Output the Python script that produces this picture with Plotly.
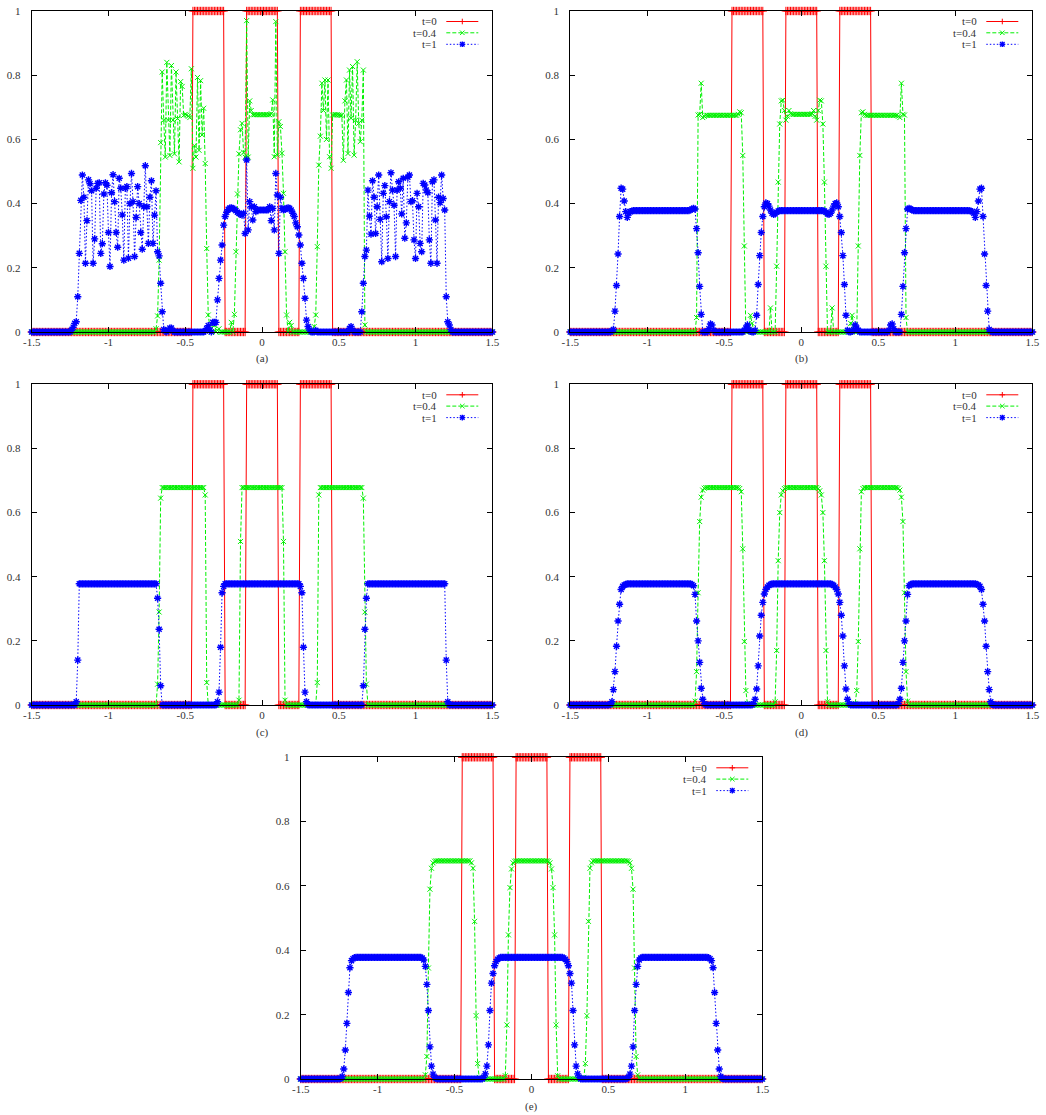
import plotly.graph_objects as go

# ---------------- grid ----------------
X_START, DX, N = -1.5, 0.01, 301
x_grid = [round(X_START + DX * i, 2) for i in range(N)]

x_tick_vals = [-1.5, -1, -0.5, 0, 0.5, 1, 1.5]
x_tick_text = ["-1.5", "-1", "-0.5", "0", "0.5", "1", "1.5"]
y_tick_vals = [0, 0.2, 0.4, 0.6, 0.8, 1]
y_tick_text = ["0", "0.2", "0.4", "0.6", "0.8", "1"]
series_names = ["t=0", "t=0.4", "t=1"]
panel_labels = ["(a)", "(b)", "(c)", "(d)", "(e)"]

# ---------------- data (start x; 0 elsewhere) ----------------
red_t0 = [(-0.45, [1.0] * 21), (-0.10, [1.0] * 21), (0.25, [1.0] * 21)]

green_a = [
    (-0.69, [0.01, 0.05, 0.224, 0.59, 0.81, 0.66, 0.545, 0.84, 0.66, 0.55, 0.83, 0.66, 0.555, 0.81,
             0.665, 0.53, 0.78, 0.765, 0.675, 0.678, 0.676, 0.672, 0.668, 0.82, 0.51, 0.58, 0.545,
             0.793, 0.566, 0.783, 0.614, 0.697, 0.525, 0.26, 0.053, 0.017]),
    (-0.32, [0.03, 0.02, 0.0, 0.005, 0.01]),
    (-0.20, [0.03, 0.0, 0.055, 0.25, 0.43, 0.555, 0.63, 0.65, 0.56, 0.545, 0.97, 0.545, 0.72, 0.69]
     + [0.677] * 12
     + [0.68, 0.723, 0.546, 0.967, 0.551, 0.655, 0.64, 0.557, 0.432, 0.25, 0.053, 0.0, 0.03, 0.02]),
    (0.33, [0.0, 0.017, 0.053, 0.266, 0.52, 0.61, 0.775, 0.69, 0.785, 0.6, 0.785, 0.546, 0.51, 0.676,
            0.677, 0.677, 0.677, 0.676, 0.675, 0.675, 0.535, 0.72, 0.785, 0.556, 0.816, 0.666, 0.827,
            0.551, 0.66, 0.842, 0.65, 0.593, 0.66, 0.816, 0.022]),
]
blue_a = [
    (-1.24, [0.005, 0.015, 0.027, 0.032, 0.11, 0.245, 0.41, 0.489, 0.42, 0.214, 0.347, 0.474, 0.462,
             0.44, 0.214, 0.29, 0.448, 0.463, 0.465, 0.245, 0.275, 0.43, 0.465, 0.457, 0.31, 0.204,
             0.434, 0.49, 0.406, 0.31, 0.264, 0.479, 0.448, 0.365, 0.224, 0.448, 0.453, 0.23, 0.4,
             0.494, 0.406, 0.235, 0.357, 0.453, 0.4, 0.31, 0.258, 0.39, 0.518, 0.39, 0.276, 0.42,
             0.471, 0.276, 0.364, 0.44, 0.25, 0.237, 0.152, 0.063, 0.008, 0.003, 0.0, 0.005, 0.012,
             0.012, 0.003]),
    (-0.37, [0.003, 0.011, 0.02, 0.005, 0.0, 0.03, 0.03, 0.03, 0.1, 0.167, 0.224, 0.271, 0.333, 0.36,
             0.373, 0.382, 0.386, 0.387, 0.385, 0.382, 0.378, 0.373, 0.37, 0.366, 0.364, 0.37, 0.307,
             0.536, 0.318, 0.406, 0.39, 0.349, 0.39, 0.375]
     + [0.38] * 8
     + [0.39, 0.347, 0.385, 0.318, 0.494, 0.427, 0.245, 0.42, 0.385, 0.38, 0.382, 0.385, 0.387,
        0.385, 0.38, 0.37, 0.36, 0.34, 0.328, 0.302, 0.271, 0.214, 0.167, 0.105, 0.037, 0.017, 0.006]),
    (0.35, [0.005]),
    (0.57, [0.011, 0.017, 0.005]),
    (0.65, [0.063, 0.152, 0.235, 0.255, 0.442, 0.361, 0.305, 0.471, 0.42, 0.307, 0.39, 0.489, 0.351,
            0.219, 0.432, 0.456, 0.359, 0.229, 0.406, 0.496, 0.442, 0.395, 0.235, 0.442, 0.468, 0.448,
            0.368, 0.479, 0.292, 0.34, 0.482, 0.489, 0.406, 0.409, 0.287, 0.229, 0.432, 0.39, 0.276,
            0.25, 0.463, 0.458, 0.442, 0.434, 0.287, 0.214, 0.468, 0.474, 0.349, 0.214, 0.42, 0.403,
            0.489, 0.416, 0.38, 0.11, 0.032, 0.022, 0.008]),
]

green_b = [
    (-0.68, [0.045, 0.676, 0.678, 0.775, 0.668, 0.672] + [0.675] * 21
     + [0.678, 0.686, 0.683, 0.55, 0.268, 0.0, 0.0, 0.02, 0.052, 0.027, 0.005]),
    (-0.20, [0.075, 0.0, 0.0, 0.0, 0.205, 0.467, 0.648, 0.72, 0.722, 0.69, 0.66, 0.672, 0.69, 0.68]
     + [0.678] * 13
     + [0.68, 0.69, 0.672, 0.66, 0.69, 0.722, 0.72, 0.648, 0.467, 0.205, 0.0, 0.0, 0.0, 0.075]),
    (0.31, [0.005, 0.027, 0.052, 0.02, 0.0, 0.0, 0.268, 0.55, 0.683, 0.686, 0.678] + [0.675] * 21
     + [0.672, 0.668, 0.775, 0.678, 0.676, 0.045]),
]
blue_b = [
    (-1.23, [0.003, 0.008, 0.065, 0.145, 0.243, 0.36, 0.448, 0.445, 0.408, 0.375, 0.357, 0.37, 0.375,
             0.377] + [0.378] * 37
     + [0.38, 0.383, 0.385, 0.383, 0.322, 0.247, 0.142, 0.055, 0.0, 0.0, 0.0, 0.0, 0.01, 0.025, 0.022,
        0.005]),
    (-0.37, [0.005, 0.012, 0.022, 0.008, 0.002, 0.0, 0.0, 0.005, 0.052, 0.148, 0.238, 0.31, 0.36, 0.39,
             0.402, 0.4, 0.392, 0.38, 0.37, 0.366, 0.368, 0.373, 0.377] + [0.378] * 29
     + [0.377, 0.373, 0.368, 0.366, 0.37, 0.38, 0.392, 0.4, 0.402, 0.39, 0.36, 0.31, 0.238, 0.148,
        0.052, 0.005, 0.0, 0.0, 0.002, 0.008, 0.022, 0.012, 0.005]),
    (0.57, [0.005, 0.022, 0.025, 0.01, 0.0, 0.0, 0.0, 0.0, 0.055, 0.142, 0.247, 0.322, 0.383, 0.385,
            0.383, 0.38] + [0.378] * 37
     + [0.377, 0.375, 0.37, 0.357, 0.375, 0.408, 0.445, 0.448, 0.36, 0.243, 0.145, 0.065, 0.008, 0.003]),
]

green_c = [
    (-0.68, [0.065, 0.29, 0.645] + [0.678] * 28 + [0.655, 0.07]),
    (-0.15, [0.015, 0.51] + [0.678] * 27 + [0.51, 0.015]),
    (0.36, [0.07, 0.655] + [0.678] * 28 + [0.645, 0.29, 0.065]),
]
blue_c = [
    (-1.21, [0.01, 0.14] + [0.378] * 51 + [0.333, 0.236, 0.06]),
    (-0.29, [0.01, 0.04, 0.18, 0.35, 0.37] + [0.378] * 49 + [0.37, 0.35, 0.18, 0.04, 0.01]),
    (0.66, [0.06, 0.236, 0.333] + [0.378] * 51 + [0.14, 0.01]),
]

green_d = [
    (-0.69, [0.012, 0.104, 0.35, 0.572, 0.648, 0.67, 0.676] + [0.678] * 22
     + [0.675, 0.665, 0.487, 0.198, 0.045, 0.005]),
    (-0.17, [0.01, 0.17, 0.45, 0.6, 0.655, 0.668, 0.675] + [0.678] * 21
     + [0.675, 0.668, 0.655, 0.6, 0.45, 0.17, 0.01]),
    (0.35, [0.005, 0.045, 0.198, 0.487, 0.665, 0.675] + [0.678] * 22
     + [0.676, 0.67, 0.648, 0.572, 0.35, 0.104, 0.012]),
]
blue_d = [
    (-1.24, [0.002, 0.01, 0.048, 0.104, 0.183, 0.262, 0.314, 0.36, 0.37, 0.374, 0.376] + [0.378] * 42
     + [0.376, 0.372, 0.345, 0.262, 0.2, 0.133, 0.052, 0.018, 0.004]),
    (-0.31, [0.004, 0.018, 0.05, 0.122, 0.215, 0.28, 0.32, 0.346, 0.36, 0.368, 0.373, 0.376]
     + [0.378] * 39
     + [0.376, 0.373, 0.368, 0.36, 0.346, 0.32, 0.28, 0.215, 0.122, 0.05, 0.018, 0.004]),
    (0.63, [0.004, 0.018, 0.052, 0.133, 0.2, 0.262, 0.345, 0.372, 0.376] + [0.378] * 42
     + [0.376, 0.374, 0.37, 0.36, 0.314, 0.262, 0.183, 0.104, 0.048, 0.01, 0.002]),
]

green_e = [
    (-0.69, [0.013, 0.07, 0.345, 0.59, 0.655, 0.672, 0.677] + [0.678] * 23
     + [0.672, 0.655, 0.49, 0.197, 0.048, 0.005]),
    (-0.17, [0.01, 0.168, 0.448, 0.595, 0.653, 0.672, 0.677] + [0.678] * 21
     + [0.677, 0.672, 0.653, 0.595, 0.448, 0.168, 0.01]),
    (0.34, [0.005, 0.048, 0.197, 0.49, 0.655, 0.672] + [0.678] * 23
     + [0.677, 0.672, 0.655, 0.59, 0.345, 0.07, 0.013]),
]
blue_e = [
    (-1.24, [0.002, 0.008, 0.031, 0.09, 0.173, 0.269, 0.346, 0.368, 0.374, 0.377] + [0.378] * 43
     + [0.376, 0.37, 0.35, 0.294, 0.213, 0.10, 0.04, 0.015, 0.005, 0.001]),
    (-0.31, [0.005, 0.016, 0.04, 0.106, 0.213, 0.298, 0.328, 0.352, 0.365, 0.372, 0.376] + [0.378] * 41
     + [0.376, 0.372, 0.365, 0.352, 0.328, 0.298, 0.213, 0.106, 0.04, 0.016, 0.005]),
    (0.62, [0.001, 0.005, 0.015, 0.04, 0.10, 0.213, 0.294, 0.35, 0.37, 0.376] + [0.378] * 43
     + [0.377, 0.374, 0.368, 0.346, 0.269, 0.173, 0.09, 0.031, 0.008, 0.002]),
]


def build(pieces):
    y = [0.0] * N
    for xs, vals in pieces:
        i0 = int(round((xs - X_START) / DX))
        for k, v in enumerate(vals):
            if 0 <= i0 + k < N:
                y[i0 + k] = v
    return y


# ---------------- layout geometry (page pixels) ----------------
W, H = 1046, 1115
# (left, right, top, bottom) of each plot frame, in page pixels
boxes = [
    (31.7, 492.3, 11.0, 332.0),
    (570.3, 1032.3, 11.0, 332.0),
    (31.7, 492.3, 384.3, 705.0),
    (570.3, 1032.3, 384.3, 705.0),
    (300.7, 762.3, 757.3, 1079.0),
]
panel_data = [(green_a, blue_a), (green_b, blue_b), (green_c, blue_c), (green_d, blue_d), (green_e, blue_e)]

RED, GREEN, BLUE = "#ff0000", "#00f000", "#0000ff"
FONT = "Liberation Serif"
TXT = "#333333"


def px(x):
    return x / W


def py(y):
    return 1 - y / H


fig = go.Figure()
shapes, annotations = [], []
red_y = build(red_t0)

for k, ((l, r, t, b), (gp, bp)) in enumerate(zip(boxes, panel_data), start=1):
    xa = "x" if k == 1 else f"x{k}"
    ya = "y" if k == 1 else f"y{k}"
    common = dict(xaxis=xa, yaxis=ya, x=x_grid, mode="lines+markers", showlegend=False, cliponaxis=False)
    fig.add_trace(go.Scatter(y=red_y, name=series_names[0],
                             line=dict(color=RED, width=1),
                             marker=dict(symbol="cross-thin", size=6, color=RED,
                                         line=dict(color=RED, width=1)), **common))
    fig.add_trace(go.Scatter(y=build(gp), name=series_names[1],
                             line=dict(color=GREEN, width=1, dash="4px,2px"),
                             marker=dict(symbol="x-thin", size=5, color=GREEN,
                                         line=dict(color=GREEN, width=1)), **common))
    fig.add_trace(go.Scatter(y=build(bp), name=series_names[2],
                             line=dict(color=BLUE, width=1, dash="1.5px,2px"),
                             marker=dict(symbol="asterisk", size=6, color=BLUE,
                                         line=dict(color=BLUE, width=1.4)), **common))

    axis_font = dict(family=FONT, size=11, color=TXT)
    fig.layout[("xaxis" if k == 1 else f"xaxis{k}")] = dict(
        domain=[px(l), px(r)], range=[-1.5, 1.5], anchor=ya, automargin=False,
        tickvals=x_tick_vals, ticktext=x_tick_text, ticks="inside", ticklen=5, tickwidth=1,
        tickcolor="black", showline=True, linecolor="black", linewidth=1, mirror="ticks",
        showgrid=False, zeroline=False, tickfont=axis_font, ticklabelstandoff=0)
    fig.layout[("yaxis" if k == 1 else f"yaxis{k}")] = dict(
        domain=[py(b), py(t)], range=[0, 1], anchor=xa, automargin=False,
        tickvals=y_tick_vals, ticktext=y_tick_text, ticks="inside", ticklen=5, tickwidth=1,
        tickcolor="black", showline=True, linecolor="black", linewidth=1, mirror="ticks",
        showgrid=False, zeroline=False, tickfont=axis_font, ticklabelstandoff=8)

    # caption under the tick labels
    annotations.append(dict(text=panel_labels[k - 1], x=px((l + r) / 2), y=py(b + 27),
                            xref="paper", yref="paper", showarrow=False,
                            font=dict(family=FONT, size=11, color=TXT),
                            xanchor="center", yanchor="middle"))

    # key (text left, sample right, like the original)
    rows = [t + 10.5, t + 21.8, t + 33.3]
    styles = [(RED, "solid"), (GREEN, "4px,2px"), (BLUE, "1.5px,2px")]
    for j, (yy, (col, dash)) in enumerate(zip(rows, styles)):
        annotations.append(dict(text=series_names[j], x=px(r - 53), y=py(yy), xref="paper",
                                yref="paper", showarrow=False, xanchor="right", yanchor="middle",
                                font=dict(family=FONT, size=11, color=TXT)))
        shapes.append(dict(type="line", xref="paper", yref="paper", x0=px(r - 46), x1=px(r - 14),
                           y0=py(yy), y1=py(yy), line=dict(color=col, width=1, dash=dash)))
        cx, cy, s = r - 30, yy, 2.8
        segs = []
        if j in (0, 2):
            segs += [((cx - s, cy), (cx + s, cy)), ((cx, cy - s), (cx, cy + s))]
        if j in (1, 2):
            d = s * 0.8
            segs += [((cx - d, cy - d), (cx + d, cy + d)), ((cx - d, cy + d), (cx + d, cy - d))]
        for (a0, a1), (b0, b1) in segs:
            shapes.append(dict(type="line", xref="paper", yref="paper", x0=px(a0), y0=py(a1),
                               x1=px(b0), y1=py(b1),
                               line=dict(color=col, width=1.4 if j == 2 else 1)))

fig.update_layout(width=W, height=H, margin=dict(l=0, r=0, t=0, b=0, autoexpand=False),
                  paper_bgcolor="white", plot_bgcolor="white", hovermode=False,
                  shapes=shapes, annotations=annotations, showlegend=False)
# remove the browser's default page margin so the figure sits at the window's corner
fig.write_html("out.html", config={"displayModeBar": False, "staticPlot": True},
               post_script="document.body.style.margin='0px';document.body.style.overflow='hidden';")
